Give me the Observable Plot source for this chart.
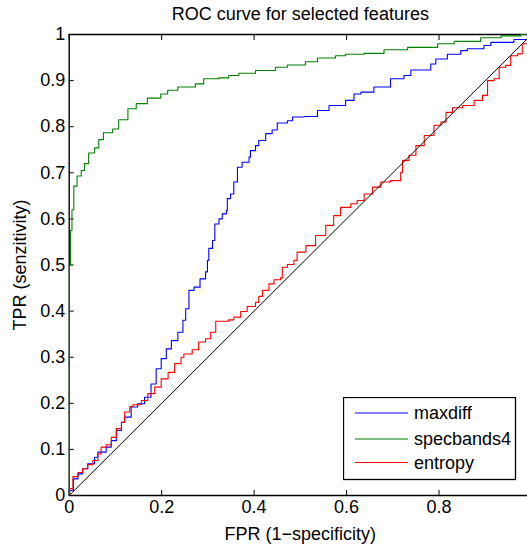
<!DOCTYPE html>
<html>
<head>
<meta charset="utf-8">
<script src="https://cdn.jsdelivr.net/npm/d3@7"></script>
<script src="https://cdn.jsdelivr.net/npm/@observablehq/plot@0.6"></script>
<style>
html, body { margin: 0; padding: 0; overflow: hidden; background: #fff; }
#wrap { position: relative; width: 527px; height: 550px; overflow: hidden; }
#wrap svg { overflow: hidden; }
#legend { position: absolute; left: 343px; top: 397px; }
</style>
</head>
<body>
<div id="wrap"></div>
<script>
const FONT = '"Liberation Sans", Arial, Helvetica, sans-serif';

const titleText = "ROC curve for selected features";
const xLabelText = "FPR (1\u2212specificity)";
const yLabelText = "TPR (senzitivity)";

const xTicks = [0, 0.2, 0.4, 0.6, 0.8];
const xTickLabels = ["0", "0.2", "0.4", "0.6", "0.8"];
const yTicks = [0, 0.1, 0.2, 0.3, 0.4, 0.5, 0.6, 0.7, 0.8, 0.9, 1];
const yTickLabels = ["0", "0.1", "0.2", "0.3", "0.4", "0.5", "0.6", "0.7", "0.8", "0.9", "1"];

const seriesNames = ["maxdiff", "specbands4", "entropy"];
const seriesColors = ["#0000ff", "#008000", "#ff0000"];

// [FPR, TPR] vertices
const maxdiff = [
  [0,0],[0.001,0.011],[0.009,0.036],[0.019,0.047],[0.029,0.058],[0.04,0.069],[0.055,0.083],
  [0.062,0.094],[0.08,0.105],[0.091,0.119],[0.102,0.141],[0.113,0.159],[0.12,0.17],[0.134,0.192],
  [0.148,0.199],[0.163,0.213],[0.177,0.242],[0.188,0.275],[0.199,0.297],[0.21,0.318],[0.221,0.336],
  [0.235,0.354],[0.246,0.38],[0.252,0.405],[0.259,0.445],[0.27,0.452],[0.283,0.47],[0.295,0.485],
  [0.299,0.51],[0.302,0.536],[0.31,0.553],[0.315,0.589],[0.324,0.6],[0.331,0.611],[0.34,0.618],
  [0.342,0.644],[0.349,0.654],[0.356,0.68],[0.364,0.712],[0.374,0.723],[0.389,0.734],[0.392,0.748],
  [0.403,0.759],[0.41,0.77],[0.425,0.785],[0.439,0.793],[0.45,0.808],[0.472,0.813],[0.483,0.821],
  [0.508,0.822],[0.537,0.835],[0.562,0.846],[0.598,0.857],[0.616,0.871],[0.631,0.875],[0.659,0.886],
  [0.695,0.904],[0.724,0.911],[0.739,0.923],[0.782,0.936],[0.793,0.947],[0.818,0.957],[0.847,0.965],
  [0.861,0.969],[0.897,0.976],[0.912,0.983],[0.962,0.989],[0.991,0.998],[1,1]
];
const specbands4 = [
  [0,0],[0,0.5],[0.003,0.575],[0.006,0.62],[0.01,0.671],[0.017,0.693],[0.026,0.705],[0.033,0.72],
  [0.042,0.743],[0.055,0.754],[0.064,0.772],[0.074,0.787],[0.094,0.795],[0.107,0.815],[0.127,0.839],
  [0.145,0.85],[0.169,0.862],[0.198,0.871],[0.213,0.879],[0.235,0.886],[0.273,0.893],[0.291,0.904],
  [0.324,0.906],[0.345,0.911],[0.367,0.916],[0.403,0.922],[0.446,0.929],[0.472,0.934],[0.511,0.941],
  [0.537,0.949],[0.576,0.954],[0.598,0.957],[0.638,0.959],[0.681,0.967],[0.732,0.972],[0.797,0.98],
  [0.833,0.985],[0.89,0.993],[0.934,0.997],[0.977,1],[1,1]
];
const entropy = [
  [0,0],[0.001,0.015],[0.008,0.041],[0.019,0.05],[0.029,0.058],[0.04,0.067],[0.051,0.076],[0.062,0.09],
  [0.069,0.105],[0.08,0.11],[0.091,0.126],[0.102,0.145],[0.113,0.159],[0.12,0.181],[0.131,0.193],
  [0.138,0.197],[0.156,0.206],[0.17,0.221],[0.185,0.235],[0.199,0.253],[0.214,0.267],[0.228,0.286],
  [0.242,0.3],[0.248,0.307],[0.266,0.316],[0.28,0.333],[0.295,0.34],[0.306,0.354],[0.317,0.378],
  [0.345,0.381],[0.356,0.387],[0.371,0.399],[0.385,0.41],[0.403,0.419],[0.41,0.432],[0.418,0.445],
  [0.432,0.459],[0.443,0.468],[0.457,0.472],[0.461,0.495],[0.472,0.501],[0.486,0.51],[0.493,0.528],
  [0.512,0.542],[0.533,0.564],[0.555,0.586],[0.572,0.607],[0.587,0.625],[0.609,0.633],[0.623,0.64],
  [0.638,0.654],[0.656,0.669],[0.674,0.68],[0.695,0.683],[0.717,0.701],[0.721,0.727],[0.735,0.738],
  [0.75,0.759],[0.768,0.781],[0.789,0.803],[0.804,0.81],[0.815,0.831],[0.829,0.841],[0.851,0.846],
  [0.876,0.857],[0.894,0.868],[0.905,0.9],[0.919,0.904],[0.93,0.929],[0.944,0.933],[0.955,0.954],
  [0.97,0.958],[0.98,0.98],[0.991,0.987],[1,1]
];
const chance = [[0,0],[1,1]];

const seriesData = [maxdiff, specbands4, entropy];
const rows = seriesData.flatMap((arr, i) => arr.map(([fpr, tpr]) => ({series: seriesNames[i], fpr, tpr})));
const diag = chance.map(([fpr, tpr]) => ({fpr, tpr}));

const fmtX = d => xTickLabels[xTicks.indexOf(d)] ?? "";
const fmtY = d => yTickLabels[yTicks.indexOf(d)] ?? "";

const chart = Plot.plot({
  width: 527,
  height: 550,
  marginLeft: 68.7,
  marginRight: -4,
  marginTop: 34,
  marginBottom: 55,
  style: {fontFamily: FONT, fontSize: "18px", color: "#000", background: "#fff"},
  x: {domain: [0, 1], axis: null},
  y: {domain: [0, 1], axis: null},
  color: {domain: seriesNames, range: seriesColors},
  marks: [
    Plot.axisX({anchor: "bottom", ticks: xTicks, tickSize: -5, tickPadding: 10, tickFormat: fmtX, label: null, stroke: "#000"}),
    Plot.axisX({anchor: "top", ticks: xTicks, tickSize: -5, tickFormat: () => "", label: null}),
    Plot.axisY({anchor: "left", ticks: yTicks, tickSize: -5, tickPadding: 9, tickFormat: fmtY, label: null}),
    Plot.axisY({anchor: "right", ticks: yTicks, tickSize: -5, tickFormat: () => "", label: null}),
    Plot.ruleY([0, 1], {stroke: "#000", strokeWidth: 1.4}),
    Plot.ruleX([0], {stroke: "#000", strokeWidth: 1.4}),
    Plot.line(rows, {x: "fpr", y: "tpr", z: "series", stroke: "series", curve: "step-after", strokeWidth: 1.1, clip: true}),
    Plot.line(diag, {x: "fpr", y: "tpr", stroke: "#000", strokeWidth: 1, clip: true}),
    Plot.text([titleText], {frameAnchor: "top", dy: -20, fontSize: 18, fill: "#000", textAnchor: "middle", lineAnchor: "middle"}),
    Plot.text([xLabelText], {frameAnchor: "bottom", dy: 39, fontSize: 18, fill: "#000", textAnchor: "middle", lineAnchor: "middle"}),
    Plot.text([yLabelText], {frameAnchor: "left", dx: -49, rotate: -90, fontSize: 18, fill: "#000", textAnchor: "middle", lineAnchor: "middle"})
  ]
});

const wrap = document.getElementById("wrap");
wrap.appendChild(chart);

// legend
const lg = d3.select(wrap).append("svg")
  .attr("id", "legend")
  .attr("width", 175).attr("height", 84)
  .style("font-family", FONT).style("font-size", "18px");
lg.append("rect").attr("x", 0.5).attr("y", 0.5).attr("width", 172).attr("height", 82)
  .attr("fill", "#fff").attr("stroke", "#000").attr("stroke-width", 1.3);
const rowY = [16, 42, 65.5];
seriesNames.forEach((name, i) => {
  lg.append("line").attr("x1", 12).attr("x2", 65).attr("y1", rowY[i]).attr("y2", rowY[i])
    .style("stroke", seriesColors[i]).attr("stroke-width", 1.2);
  lg.append("text").attr("x", 71).attr("y", rowY[i]).attr("dy", "0.35em").attr("fill", "#000").text(name);
});
</script>
</body>
</html>
